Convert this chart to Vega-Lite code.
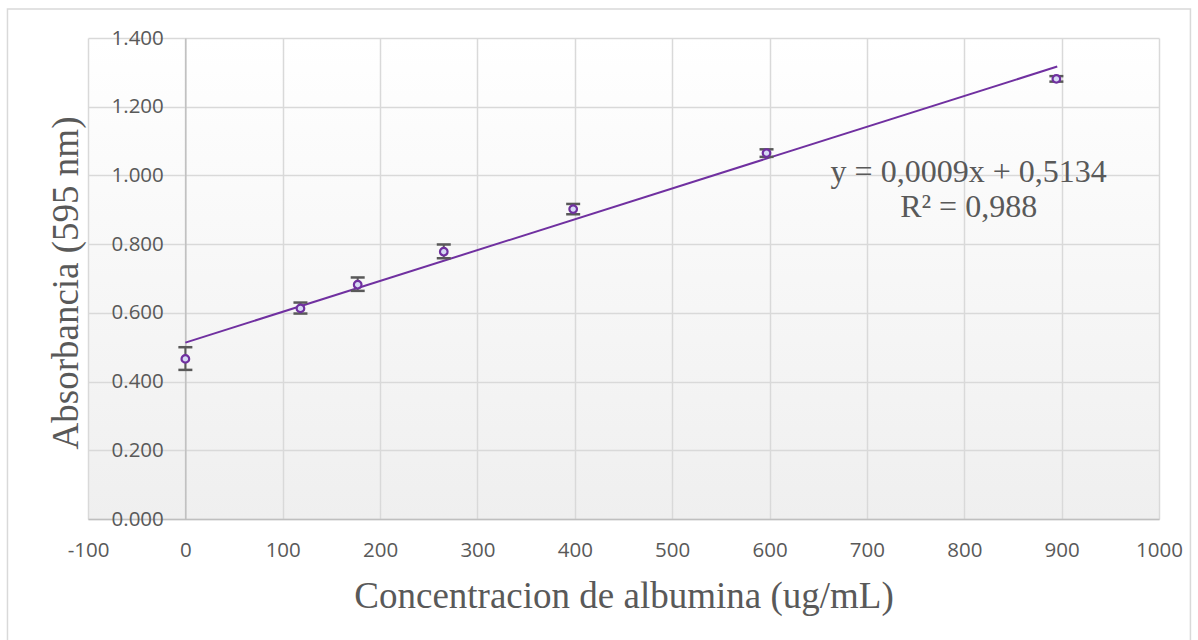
{
  "$schema": "https://vega.github.io/schema/vega-lite/v6.json",
  "width": 1071,
  "height": 481,
  "autosize": {"type": "none"},
  "padding": {"left": 88, "top": 38, "right": 39, "bottom": 121},
  "background": "#ffffff",
  "view": {
    "stroke": null,
    "fill": {
      "gradient": "linear", "x1": 0, "y1": 0, "x2": 0, "y2": 1,
      "stops": [{"offset": 0, "color": "#ffffff"}, {"offset": 1, "color": "#efefef"}]
    }
  },
  "datasets": {
    "points": [
      {"conc": 0, "abs": 0.466, "lo": 0.434, "hi": 0.500},
      {"conc": 118.2, "abs": 0.613, "lo": 0.598, "hi": 0.630},
      {"conc": 177.0, "abs": 0.682, "lo": 0.664, "hi": 0.703},
      {"conc": 265.4, "abs": 0.778, "lo": 0.759, "hi": 0.799},
      {"conc": 398.3, "abs": 0.902, "lo": 0.887, "hi": 0.917},
      {"conc": 596.9, "abs": 1.065, "lo": 1.054, "hi": 1.076},
      {"conc": 894.6, "abs": 1.281, "lo": 1.273, "hi": 1.289}
    ],
    "trend": [
      {"conc": 0, "abs": 0.5134},
      {"conc": 895.5, "abs": 1.317}
    ],
    "labels": [
      {"line": "y = 0,0009x + 0,5134"},
      {"line": "R² = 0,988"}
    ]
  },
  "layer": [
    {
      "data": {"name": "trend"},
      "mark": {"type": "line", "color": "#7030A0", "strokeWidth": 2},
      "encoding": {
        "x": {
          "field": "conc", "type": "quantitative",
          "scale": {"domain": [-100, 1000], "nice": false, "zero": false},
          "axis": {
            "title": "Concentracion de albumina (ug/mL)",
            "values": [-100, 0, 100, 200, 300, 400, 500, 600, 700, 800, 900, 1000],
            "labelExpr": "'' + datum.value",
            "grid": true, "gridColor": "#d9d9d9", "gridWidth": 1.5,
            "domainColor": "#bfbfbf", "domainWidth": 1.5,
            "ticks": false, "tickSize": 0,
            "labelFont": "Open Sans", "labelFontSize": 20.5, "labelColor": "#595959",
            "labelPadding": 21, "labelFlush": false, "labelOverlap": false,
            "titleFont": "Liberation Serif", "titleFontSize": 37, "titleFontWeight": "normal",
            "titleColor": "#595959", "titleBaseline": "alphabetic", "titleY": 88
          }
        },
        "y": {
          "field": "abs", "type": "quantitative",
          "scale": {"domain": [0, 1.4], "nice": false, "zero": false},
          "axis": {
            "title": "Absorbancia (595 nm)",
            "values": [0, 0.2, 0.4, 0.6, 0.8, 1.0, 1.2, 1.4],
            "format": ".3f",
            "offset": -97.3,
            "grid": true, "gridColor": "#d9d9d9", "gridWidth": 1.5,
            "domainColor": "#bfbfbf", "domainWidth": 1.5,
            "ticks": false, "tickSize": 0,
            "labelFont": "Open Sans", "labelFontSize": 20.5, "labelColor": "#595959",
            "labelPadding": 22, "labelOverlap": false, "labelFlush": false,
            "titleFont": "Liberation Serif", "titleFontSize": 37, "titleFontWeight": "normal",
            "titleColor": "#595959", "titleAngle": -90, "titleBaseline": "alphabetic",
            "titleAlign": "center", "titleX": -108, "titleY": 244.5
          }
        }
      }
    },
    {
      "data": {"values": [{}]},
      "mark": {"type": "rect", "fill": null, "stroke": "#d9d9d9", "strokeWidth": 1.5, "clip": false},
      "encoding": {
        "x": {"datum": -182.7, "type": "quantitative"},
        "x2": {"datum": 1032.3},
        "y": {"datum": 1.4844, "type": "quantitative"},
        "y2": {"datum": -0.37}
      }
    },
    {
      "data": {"name": "points"},
      "mark": {"type": "rule", "color": "#595959", "strokeWidth": 2},
      "encoding": {
        "x": {"field": "conc", "type": "quantitative"},
        "y": {"field": "lo", "type": "quantitative"},
        "y2": {"field": "hi"}
      }
    },
    {
      "data": {"name": "points"},
      "mark": {"type": "rule", "color": "#595959", "strokeWidth": 2.5, "xOffset": -7, "x2Offset": 7},
      "encoding": {
        "x": {"field": "conc", "type": "quantitative"},
        "x2": {"field": "conc"},
        "y": {"field": "lo", "type": "quantitative"}
      }
    },
    {
      "data": {"name": "points"},
      "mark": {"type": "rule", "color": "#595959", "strokeWidth": 2.5, "xOffset": -7, "x2Offset": 7},
      "encoding": {
        "x": {"field": "conc", "type": "quantitative"},
        "x2": {"field": "conc"},
        "y": {"field": "hi", "type": "quantitative"}
      }
    },
    {
      "data": {"name": "points"},
      "mark": {"type": "point", "shape": "circle", "filled": true, "size": 58, "fill": "#d6d9f4", "stroke": "#7030A0", "strokeWidth": 2.2, "opacity": 1},
      "encoding": {
        "x": {"field": "conc", "type": "quantitative"},
        "y": {"field": "abs", "type": "quantitative"}
      }
    },
    {
      "data": {"name": "labels"},
      "transform": [{"filter": "datum.line == 'y = 0,0009x + 0,5134'"}],
      "mark": {"type": "text", "font": "Liberation Serif", "fontSize": 32, "color": "#595959", "align": "center", "baseline": "alphabetic"},
      "encoding": {
        "x": {"datum": 804.5, "type": "quantitative"},
        "y": {"datum": 0.9817, "type": "quantitative"},
        "text": {"field": "line"}
      }
    },
    {
      "data": {"name": "labels"},
      "transform": [{"filter": "datum.line == 'R² = 0,988'"}],
      "mark": {"type": "text", "font": "Liberation Serif", "fontSize": 32, "color": "#595959", "align": "center", "baseline": "alphabetic"},
      "encoding": {
        "x": {"datum": 804.5, "type": "quantitative"},
        "y": {"datum": 0.880, "type": "quantitative"},
        "text": {"field": "line"}
      }
    }
  ]
}
